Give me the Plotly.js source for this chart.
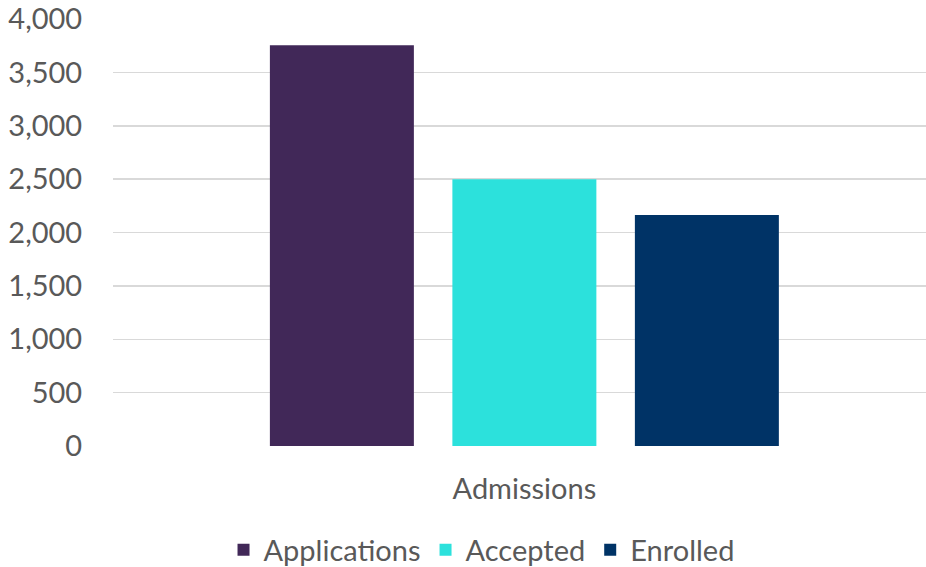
<!DOCTYPE html>
<html><head><meta charset="utf-8">
<script src="https://cdn.plot.ly/plotly-3.0.1.min.js"></script>
<style>html,body{margin:0;padding:0;background:#fff}#chart{width:926px;height:567px}</style>
</head><body><div id="chart"></div>
<script>
const categories = ["Admissions"];
const seriesNames = ["Applications", "Accepted", "Enrolled"];
const seriesValues = [[3755], [2500], [2163]];
const seriesColors = ["#412858", "#2ce1dc", "#003366"];
const yTicks = [0, 500, 1000, 1500, 2000, 2500, 3000, 3500, 4000];

const font = "Lato, 'Open Sans', sans-serif";
const traces = seriesNames.map((n, i) => ({
  type: "bar", name: n, x: categories, y: seriesValues[i],
  marker: {color: seriesColors[i]}, hoverinfo: "none"
}));
const layout = {
  width: 926, height: 567,
  margin: {l: 113, r: 0, t: 19, b: 121},
  paper_bgcolor: "#fff", plot_bgcolor: "#fff",
  barmode: "group", bargap: 0.3266, bargroupgap: 0.211,
  showlegend: true,
  font: {family: font, color: "#595959", size: 29},
  xaxis: {type: "category", range: [-0.506, 0.494], showgrid: false, zeroline: false,
          showline: false, ticks: "outside", ticklen: 17, tickcolor: "rgba(0,0,0,0)",
          tickfont: {size: 29, color: "#595959", family: font}},
  yaxis: {range: [0, 4000], tickvals: yTicks, ticktext: yTicks.map(v => v.toLocaleString("en-US")),
          showgrid: true, gridcolor: "#d9d9d9", gridwidth: 1.5, zeroline: false, showline: false,
          ticks: "outside", ticklen: 24, tickcolor: "rgba(0,0,0,0)",
          tickfont: {size: 29, color: "#595959", family: font}},
  legend: {orientation: "h", xref: "container", yref: "container", x: 0.52, xanchor: "center",
           y: 0.03, yanchor: "middle", font: {size: 29, color: "#595959", family: font},
           itemwidth: 30, tracegroupgap: 0}
};
Plotly.newPlot("chart", traces, layout, {displayModeBar: false, staticPlot: true});
</script></body></html>
